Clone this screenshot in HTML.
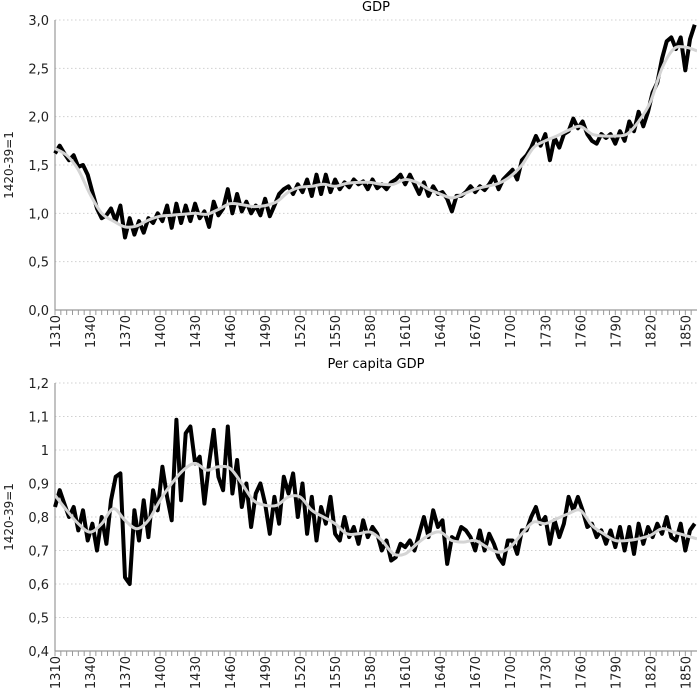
<!DOCTYPE html>
<html><head><meta charset="utf-8"><style>
html,body{margin:0;padding:0;background:#fff;}
svg{display:block;font-family:"DejaVu Sans","Liberation Sans",sans-serif;}
</style></head><body>
<svg id="c" width="700" height="690"></svg>
<script>
const gdpRaw=[1.62,1.70,1.62,1.55,1.60,1.48,1.50,1.40,1.22,1.05,0.95,0.98,1.05,0.92,1.08,0.75,0.95,0.78,0.92,0.80,0.95,0.90,1.00,0.92,1.08,0.85,1.10,0.90,1.08,0.92,1.10,0.95,1.02,0.86,1.12,0.98,1.05,1.25,1.00,1.20,1.02,1.12,1.00,1.08,0.98,1.15,0.97,1.08,1.20,1.25,1.28,1.20,1.30,1.22,1.35,1.18,1.40,1.20,1.40,1.22,1.35,1.25,1.32,1.27,1.35,1.30,1.33,1.25,1.35,1.26,1.30,1.25,1.32,1.35,1.40,1.30,1.40,1.30,1.20,1.32,1.18,1.28,1.20,1.22,1.15,1.02,1.18,1.18,1.22,1.28,1.22,1.28,1.24,1.30,1.38,1.25,1.35,1.40,1.45,1.35,1.55,1.60,1.68,1.80,1.70,1.82,1.55,1.78,1.68,1.82,1.85,1.98,1.88,1.95,1.82,1.75,1.72,1.82,1.78,1.82,1.72,1.85,1.75,1.95,1.85,2.05,1.90,2.05,2.25,2.35,2.60,2.78,2.82,2.70,2.82,2.48,2.80,2.95];
const gdpTrend=[1.67,1.6,1.45,1.2,1.0,0.92,0.86,0.87,0.93,0.97,0.98,0.99,1.0,0.99,1.04,1.1,1.09,1.07,1.08,1.12,1.22,1.27,1.28,1.3,1.28,1.31,1.32,1.32,1.3,1.3,1.35,1.32,1.25,1.2,1.16,1.2,1.25,1.28,1.31,1.38,1.5,1.68,1.75,1.8,1.86,1.9,1.82,1.8,1.8,1.82,1.95,2.15,2.5,2.7,2.72,2.68];
const pcRaw=[0.83,0.88,0.84,0.80,0.83,0.76,0.82,0.73,0.78,0.70,0.80,0.72,0.85,0.92,0.93,0.62,0.60,0.82,0.73,0.85,0.74,0.88,0.82,0.95,0.86,0.79,1.09,0.85,1.05,1.07,0.96,0.98,0.84,0.96,1.06,0.92,0.88,1.07,0.87,0.97,0.83,0.90,0.77,0.87,0.90,0.84,0.75,0.86,0.78,0.92,0.87,0.93,0.80,0.90,0.75,0.86,0.73,0.83,0.78,0.86,0.75,0.73,0.80,0.74,0.77,0.72,0.79,0.74,0.77,0.75,0.70,0.73,0.67,0.68,0.72,0.71,0.73,0.70,0.75,0.80,0.74,0.82,0.77,0.79,0.66,0.74,0.73,0.77,0.76,0.74,0.70,0.76,0.70,0.75,0.72,0.68,0.66,0.73,0.73,0.69,0.76,0.76,0.80,0.83,0.78,0.80,0.72,0.79,0.74,0.78,0.86,0.82,0.86,0.82,0.77,0.78,0.74,0.76,0.72,0.76,0.71,0.77,0.70,0.77,0.69,0.78,0.72,0.77,0.74,0.78,0.75,0.80,0.74,0.73,0.78,0.70,0.76,0.78];
const pcTrend=[0.865,0.82,0.78,0.755,0.78,0.825,0.79,0.765,0.79,0.85,0.90,0.94,0.96,0.94,0.95,0.945,0.90,0.85,0.835,0.835,0.86,0.86,0.82,0.80,0.78,0.75,0.75,0.755,0.73,0.69,0.69,0.72,0.745,0.755,0.73,0.725,0.73,0.71,0.695,0.71,0.75,0.785,0.78,0.795,0.81,0.82,0.775,0.75,0.73,0.73,0.735,0.745,0.765,0.755,0.745,0.735];
const gdpTicks=["0,0","0,5","1,0","1,5","2,0","2,5","3,0"];
const pcTicks=["0,4","0,5","0,6","0,7","0,8","0,9","1","1,1","1,2"];
const START=1310, RAWSTEP=4, TRENDSTEP=10;

const NS="http://www.w3.org/2000/svg";
const svg=document.getElementById('c');
function mk(tag,attrs,parent){const e=document.createElementNS(NS,tag);for(const k in attrs)e.setAttribute(k,attrs[k]);(parent||svg).appendChild(e);return e;}
const X0=55,X1=697,YR0=1310,YR1=1860;
const xs=y=>X0+(y-YR0)*(X1-X0)/(YR1-YR0);

function panel(name,title,titleY,top,bottom,vmin,vmax,ticks,raw,trend){
  const g=mk('g',{});
  
  
  const ys=v=>bottom-(v-vmin)*(bottom-top)/(vmax-vmin);
  const t=mk('text',{x:376,y:titleY,'text-anchor':'middle','font-size':13,fill:'#000'},g);
  t.textContent=title;
  
  
  ticks.forEach((lab,i)=>{
    const v=vmin+i*(vmax-vmin)/(ticks.length-1);
    const y=ys(v);
    if(i>0){const gl=mk('line',{x1:X0,x2:X1,y1:y,y2:y,stroke:'#d0d0d0','stroke-dasharray':'1.5 2.5','stroke-width':1},g);
      
      }
    const tl=mk('text',{x:X0-6,y:y+5,'text-anchor':'end','font-size':13,fill:'#222'},g);
    tl.textContent=lab;
    
    
  });
  const yt=mk('text',{x:0,y:0,'text-anchor':'middle','font-size':12,fill:'#222',transform:`translate(13,${(top+bottom)/2}) rotate(-90)`},g);
  yt.textContent='1420-39=1';
  
  
  mk('line',{x1:X0,x2:X0,y1:top,y2:bottom,stroke:'#999','stroke-width':1.2},g);
  const ax=mk('line',{x1:X0,x2:X1,y1:bottom,y2:bottom,stroke:'#999','stroke-width':1.2},g);
  
  
  for(let yr=YR0;yr<=YR1-5;yr+=5){
    const x=xs(yr);
    mk('line',{x1:x,x2:x,y1:bottom,y2:bottom+5,stroke:'#999','stroke-width':1},g);
    if((yr-YR0)%30===0){
      const xl=mk('text',{x:0,y:0,'text-anchor':'end','font-size':13,fill:'#222',transform:`translate(${x+5},${bottom+5}) rotate(-90)`},g);
      xl.textContent=String(yr);
      
      
    }
  }
  let d='';raw.forEach((v,i)=>{d+=(i?'L':'M')+xs(START+i*RAWSTEP).toFixed(1)+' '+ys(v).toFixed(1);});
  const rl=mk('path',{d,fill:'none',stroke:'#000','stroke-width':4,'stroke-linejoin':'round'},g);
  
  
  // smooth trend via catmull-rom
  const pts=trend.map((v,i)=>[xs(START+i*TRENDSTEP),ys(v)]);
  let d2='M'+pts[0][0]+' '+pts[0][1];
  for(let i=0;i<pts.length-1;i++){
    const p0=pts[Math.max(0,i-1)],p1=pts[i],p2=pts[i+1],p3=pts[Math.min(pts.length-1,i+2)];
    const c1=[p1[0]+(p2[0]-p0[0])/6,p1[1]+(p2[1]-p0[1])/6],c2=[p2[0]-(p3[0]-p1[0])/6,p2[1]-(p3[1]-p1[1])/6];
    d2+=`C${c1[0].toFixed(1)} ${c1[1].toFixed(1)} ${c2[0].toFixed(1)} ${c2[1].toFixed(1)} ${p2[0].toFixed(1)} ${p2[1].toFixed(1)}`;
  }
  const cp=mk('clipPath',{id:name+'-clip'},g);mk('rect',{x:X0,y:top-5,width:X1-X0,height:bottom-top+5},cp);
  const tr=mk('path',{d:d2,fill:'none',stroke:'#d4d4d4','stroke-width':3,'clip-path':`url(#${name}-clip)`},g);
  
  
}
panel('gdp','GDP',11,20,310,0,3,gdpTicks,gdpRaw,gdpTrend);
panel('per-capita','Per capita GDP',368,383,651,0.4,1.2,pcTicks,pcRaw,pcTrend);
</script>
</body></html>
